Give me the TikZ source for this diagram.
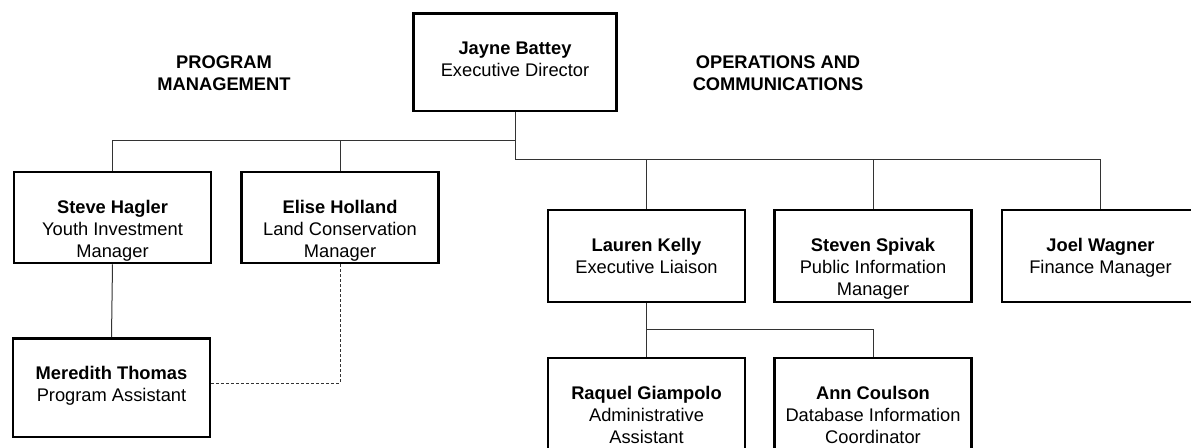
\documentclass[tikz,border=0pt]{standalone}
\usepackage{fontspec}
\setmainfont{Liberation Sans}
\usepackage{xcolor}
\definecolor{darkgrey}{rgb}{0.2,0.2,0.2}
\usepackage{tikz}
\newcommand{\orgfont}{\fontsize{18.3}{22}\selectfont}
\tikzset{
    orgbox/.style={draw=black, line width=2.5pt, minimum width=197pt, minimum height=92pt, inner sep=0pt},
    who/.style={anchor=north, inner sep=0pt, align=center, font=\orgfont},
    link/.style={draw=darkgrey, line width=1pt},
    dotlink/.style={draw=darkgrey, line width=1pt, dash pattern=on 3pt off 2pt}
}
\begin{document}
\begin{tikzpicture}
    [x=1pt, y=-1pt]
    \useasboundingbox (0,0) rectangle (1191,447);
    \clip (0,0) rectangle (1191,447);
    % boxes
    \node[orgbox, minimum width=203pt, minimum height=97.5pt] (battey) at (515,62) {};
    \node[orgbox, minimum height=91pt] (hagler) at (112.5,217.5) {};
    \node[orgbox, minimum height=91pt] (holland) at (340,217.5) {};
    \node[orgbox, minimum height=98.5pt] (thomas) at (111.5,387.5) {};
    \node[orgbox] (kelly) at (646.5,256) {};
    \node[orgbox] (spivak) at (873,256) {};
    \node[orgbox] (wagner) at (1100.5,256) {};
    \node[orgbox] (giampolo) at (646.5,404) {};
    \node[orgbox] (coulson) at (873,404) {};
    % joints
    \coordinate (pmbar) at (515,140);
    \coordinate (ocbar) at (515,159);
    \coordinate (lkbar) at (646.5,329);
    \coordinate (thomasdash) at ([yshift=4.5pt]thomas.east);
    % lines
    \draw[link] (battey.south) |- (ocbar -| wagner.north) -- (wagner.north);
    \draw[link] (pmbar) -| (hagler.north);
    \draw[link] (pmbar -| holland.north) -- (holland.north);
    \draw[link] (ocbar -| kelly.north) -- (kelly.north);
    \draw[link] (ocbar -| spivak.north) -- (spivak.north);
    \draw[link] (hagler.south) -- (thomas.north);
    \draw[link] (kelly.south) -- (giampolo.north);
    \draw[link] (lkbar) -| (coulson.north);
    \draw[dotlink] (holland.south) |- (thomasdash);
    % text
    \node[who] (batteytxt) at ([yshift=-29.5pt]battey.north) {\textbf{Jayne Battey}\\Executive Director};
    \node[who] (haglertxt) at ([yshift=-29.5pt]hagler.north) {\textbf{Steve Hagler}\\Youth Investment\\Manager};
    \node[who] (hollandtxt) at ([yshift=-29.5pt]holland.north) {\textbf{Elise Holland}\\Land Conservation\\Manager};
    \node[who] (thomastxt) at ([yshift=-29.5pt]thomas.north) {\textbf{Meredith Thomas}\\Program Assistant};
    \node[who] (kellytxt) at ([yshift=-29.5pt]kelly.north) {\textbf{Lauren Kelly}\\Executive Liaison};
    \node[who] (spivaktxt) at ([yshift=-29.5pt]spivak.north) {\textbf{Steven Spivak}\\Public Information\\Manager};
    \node[who] (wagnertxt) at ([yshift=-29.5pt]wagner.north) {\textbf{Joel Wagner}\\Finance Manager};
    \node[who] (giampolotxt) at ([yshift=-29.5pt]giampolo.north) {\textbf{Raquel Giampolo}\\Administrative\\Assistant};
    \node[who] (coulsontxt) at ([yshift=-29.5pt]coulson.north) {\textbf{Ann Coulson}\\Database Information\\Coordinator};
    \node[who, font=\orgfont\bfseries] (progmgmt) at (224,56) {PROGRAM\\MANAGEMENT};
    \node[who, font=\orgfont\bfseries] (opscomm) at (778,56) {OPERATIONS AND\\COMMUNICATIONS};
\end{tikzpicture}
\end{document}
